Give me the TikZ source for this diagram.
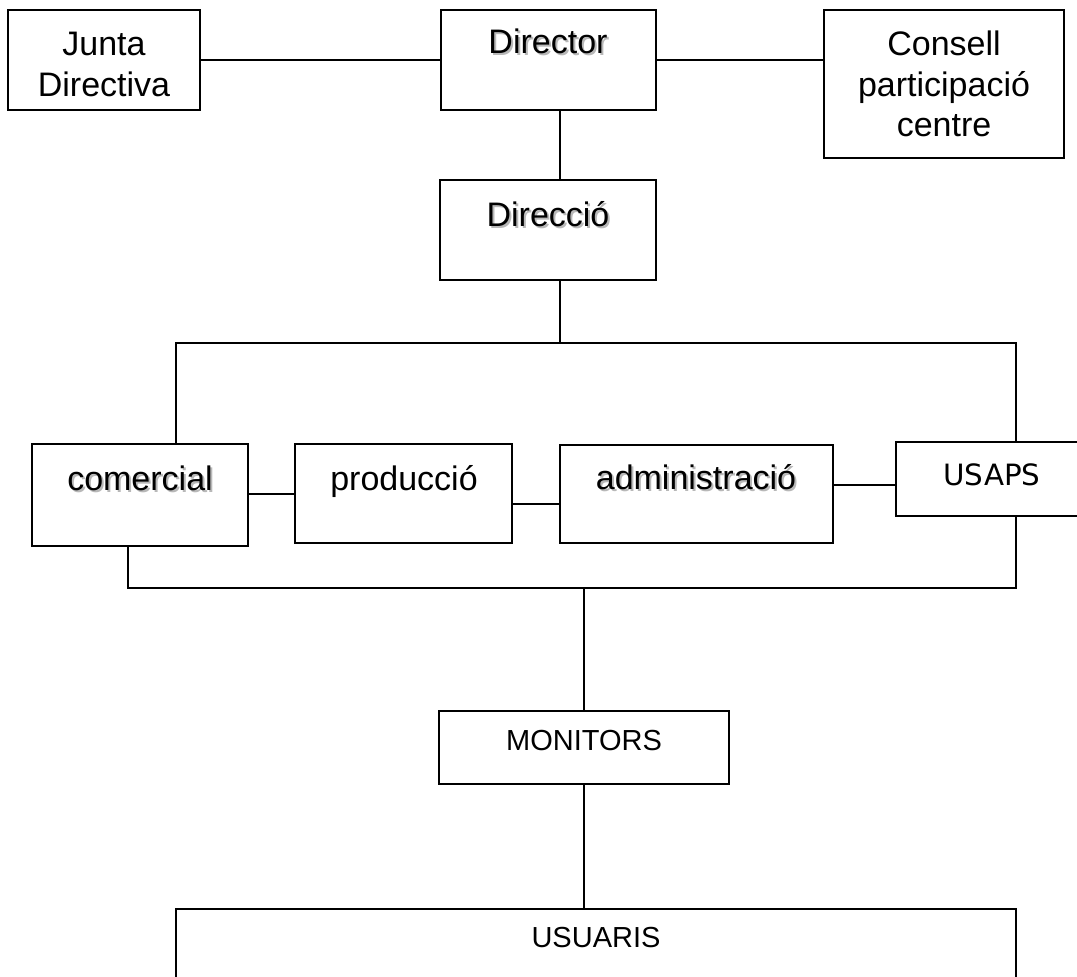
\documentclass[tikz,border=0pt]{standalone}
\usepackage{fontspec}
\setmainfont{Liberation Sans}
\newfontfamily\usapsfont{DejaVu Sans}
\begin{document}
\begin{tikzpicture}[x=0.75pt,y=-0.75pt,
  box/.style={draw, line width=1.4pt, inner sep=0pt},
  conn/.style={line width=1.4pt},
  lbl/.style={anchor=base, inner sep=0pt, font=\fontsize{25.5}{30}\selectfont},
  shd/.style={lbl, text=black!28, xshift=1.5pt, yshift=-1.5pt},
  small/.style={anchor=base, inner sep=0pt, font=\fontsize{21.75}{26}\selectfont},
  usapsfont/.style={anchor=base, inner sep=0pt, font=\usapsfont\fontsize{22}{26}\selectfont}
]
\useasboundingbox (0,0) rectangle (1077,976);
\fill[white] (0,0) rectangle (1077,976);

% boxes
\node[box, minimum width=144pt, minimum height=75pt] (junta) at (104,60) {};
\node[box, minimum width=161.25pt, minimum height=75pt] (dir) at (548.5,60) {};
\node[box, minimum width=180pt, minimum height=111pt] (cons) at (944,84) {};
\node[box, minimum width=162pt, minimum height=75pt] (dirc) at (548,230) {};
\node[box, minimum width=162pt, minimum height=76.5pt] (com) at (140,495) {};
\node[box, minimum width=162.75pt, minimum height=74.25pt] (prod) at (403.5,493.5) {};
\node[box, minimum width=204.75pt, minimum height=73.5pt] (adm) at (696.5,494) {};
\node[box, minimum width=145.5pt, minimum height=55.5pt] (usaps) at (993,479) {};
\node[box, minimum width=217.5pt, minimum height=54.75pt] (mon) at (584,747.5) {};
\node[box, minimum width=630pt, minimum height=68.25pt] (usu) at (596,954.5) {};

% texts
\node[lbl] (juntaA) at (104,55) {Junta};
\node[lbl] (juntaB) at (104,96) {Directiva};
\node[shd] (dirS) at (548,53) {Director};
\node[lbl] (dirT) at (548,53) {Director};
\node[lbl] (consA) at (944,55) {Consell};
\node[lbl] (consB) at (944,96) {participació};
\node[lbl] (consC) at (944,136) {centre};
\node[shd] (dircS) at (548,226) {Direcció};
\node[lbl] (dircT) at (548,226) {Direcció};
\node[shd] (comS) at (140,490) {comercial};
\node[lbl] (comT) at (140,490) {comercial};
\node[lbl] (prodT) at (404,490) {producció};
\node[shd] (admS) at (696,489) {administració};
\node[lbl] (admT) at (696,489) {administració};
\node[usapsfont] (usapsT) at (992,485) {USAPS};
\node[small] (monT) at (584,750) {MONITORS};
\node[small] (usuT) at (596,947) {USUARIS};

% helper coordinates
\coordinate (vx) at (560,0);
\coordinate (tl) at (176,343);
\coordinate (tr) at (1016,343);
\coordinate (bl) at (128,588);
\coordinate (br) at (1016,588);
\coordinate (bm) at (584,588);
\coordinate (cp) at (0,494);
\coordinate (pa) at (0,504);
\coordinate (au) at (0,485);

% connectors
\draw[conn] (junta.east) -- (dir.west);
\draw[conn] (dir.east) -- (dir.east -| cons.west);
\draw[conn] (dir.south -| vx) -- (dirc.north -| vx);
\draw[conn] (dirc.south -| vx) -- (vx |- tl);
\draw[conn] (com.north -| tl) -- (tl) -- (tr) -- (usaps.north -| tr);
\draw[conn] (com.east |- cp) -- (prod.west |- cp);
\draw[conn] (prod.east |- pa) -- (adm.west |- pa);
\draw[conn] (adm.east |- au) -- (usaps.west |- au);
\draw[conn] (com.south -| bl) -- (bl) -- (br) -- (usaps.south -| br);
\draw[conn] (bm) -- (mon.north);
\draw[conn] (mon.south) -- (usu.north -| mon.south);
\end{tikzpicture}
\end{document}
